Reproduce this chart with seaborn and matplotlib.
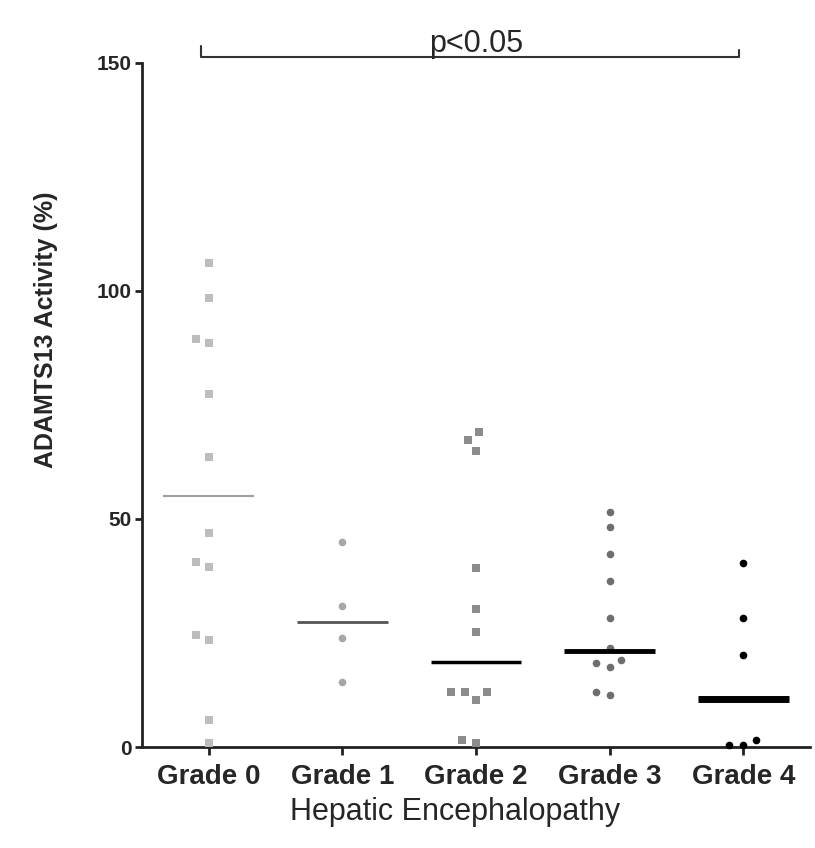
import matplotlib
matplotlib.use("Agg")
import matplotlib.pyplot as plt
import seaborn as sns
import pandas as pd

categories = ["Grade 0", "Grade 1", "Grade 2", "Grade 3", "Grade 4"]

grade0 = [106.0, 98.5, 89.5, 88.5, 77.5, 63.5, 47.0, 40.5, 39.5, 24.5, 23.5, 6.0, 1.0]
grade1 = [45.0, 31.0, 24.0, 14.3]
grade2 = [69.0, 67.3, 65.0, 39.3, 30.3, 25.2, 12.1, 12.1, 12.1, 10.3, 1.5, 0.9]
grade3 = [51.5, 48.3, 42.3, 36.3, 28.3, 21.7, 19.1, 18.4, 17.6, 12.1, 11.4]
grade4 = [40.4, 28.3, 20.2, 1.5, 0.5, 0.4]

medians = [55.0, 27.5, 18.6, 21.1, 10.5]

y_ticks = [0, 50, 100, 150]
x_label = "Hepatic Encephalopathy"
y_label = "ADAMTS13 Activity (%)"
sig_text = "p<0.05"

series = [grade0, grade1, grade2, grade3, grade4]
rows = []
for cat, vals in zip(categories, series):
    for v in vals:
        rows.append({"grade": cat, "activity": v})
df = pd.DataFrame(rows)

sns.set_theme(style="ticks")
plt.rcParams["font.family"] = ["Liberation Sans", "DejaVu Sans"]
fs_xt, fs_yt, fs_xl, fs_yl, fs_p = 20, 15, 22, 18, 22

fig = plt.figure(figsize=(8.15, 8.48), dpi=100)
ax = fig.add_axes([0.174, 0.119, 0.82, 0.807])

point_colors = ["#bdbdbd", "#a6a6a6", "#8c8c8c", "#6e6e6e", "#000000"]
point_markers = ["s", "o", "s", "o", "o"]
line_colors = ["#a0a0a0", "#555555", "#000000", "#000000", "#000000"]
line_widths = [1.5, 2.0, 2.5, 3.5, 5.0]

for i, cat in enumerate(categories):
    sub = df[df["grade"] == cat]
    sns.swarmplot(data=sub, x="grade", y="activity", order=categories,
                  color=point_colors[i], marker=point_markers[i], size=5.5,
                  ax=ax, linewidth=4, edgecolor=(1, 1, 1, 0),
                  clip_on=False, zorder=3)
    ax.hlines(medians[i], i - 0.34, i + 0.34, colors=line_colors[i],
              linewidth=line_widths[i], zorder=4)

ax.set_xlim(-0.5, 4.5)
ax.set_ylim(0, 150)
ax.set_yticks(y_ticks)
ax.set_yticklabels([str(t) for t in y_ticks], fontsize=fs_yt, fontweight="bold")
ax.set_xticks(range(len(categories)))
ax.set_xticklabels(categories, fontsize=fs_xt, fontweight="bold")
ax.set_xlabel(x_label, fontsize=fs_xl)
ax.xaxis.set_label_coords(0.469, -0.073)
ax.set_ylabel(y_label, fontsize=fs_yl, fontweight="bold")
ax.yaxis.set_label_coords(-0.125, 0.61)

for s in ["top", "right"]:
    ax.spines[s].set_visible(False)
for s in ["left", "bottom"]:
    ax.spines[s].set_linewidth(2)
    ax.spines[s].set_color("#222222")
ax.tick_params(axis="both", width=2, length=6, color="#222222")
ax.tick_params(axis="x", pad=6)
ax.tick_params(axis="y", pad=2, length=5)

# significance bracket
bx0, bx1, by = -0.06, 3.97, 151.2
ax.plot([bx0, bx0, bx1, bx1], [by + 2.5, by, by, by + 1.5],
        color="#333333", lw=1.5, clip_on=False)
ax.text(2.0, by - 0.3, sig_text, ha="center", va="bottom", fontsize=fs_p,
        clip_on=False)

fig.savefig("out.png", dpi=100, facecolor="white")
